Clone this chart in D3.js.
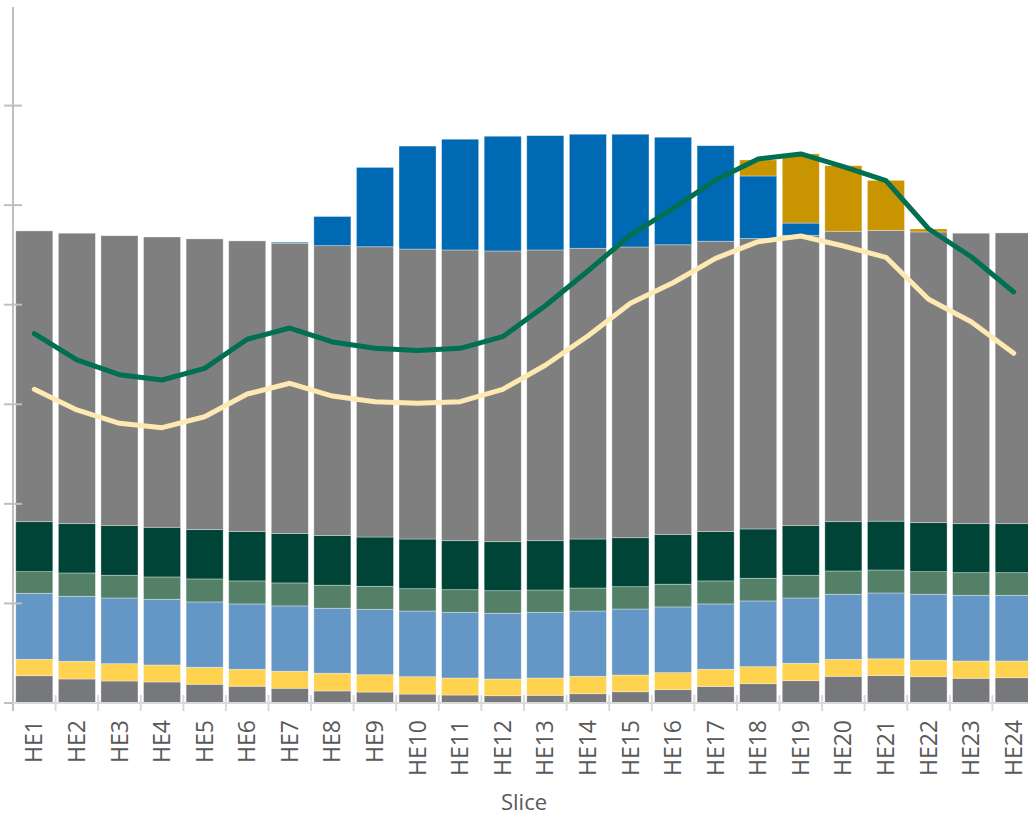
<!DOCTYPE html>
<html>
<head>
<meta charset="utf-8">
<script src="https://cdn.jsdelivr.net/npm/d3@7"></script>
<style>
  body { margin: 0; background: #fff; }
  svg { display: block; }
</style>
</head>
<body>
<div id="chart-area"></div>
<script>
// categories
const slices = ['HE1','HE2','HE3','HE4','HE5','HE6','HE7','HE8','HE9','HE10','HE11','HE12',
                'HE13','HE14','HE15','HE16','HE17','HE18','HE19','HE20','HE21','HE22','HE23','HE24'];

// stacked series, bottom to top (MW)
const darkGray  = [274,241,221,211,188,168,148,121,110,90,80,73,77,93,113,134,166,194,224,268,276,264,248,254];
const yellow    = [165,178,174,171,171,171,171,178,174,174,171,168,174,175,168,171,173,171,175,171,168,166,174,168];
const lightBlue = [663,653,660,660,656,656,656,653,657,660,660,660,660,656,663,660,656,660,656,653,661,662,660,660];
const midGreen  = [217,234,228,224,231,231,231,231,231,224,227,227,224,231,224,228,231,228,228,234,231,227,227,227];
const darkGreen = [502,495,498,499,495,495,495,498,495,499,492,492,495,492,492,498,495,495,498,495,490,492,492,492];
const gray      = [2920,2917,2912,2915,2920,2920,2917,2912,2915,2912,2920,2920,2920,2920,2920,2911,2917,2917,2917,2917,2921,2920,2917,2920];
const blue      = [0,0,0,0,0,0,10,293,797,1034,1112,1152,1148,1145,1132,1080,959,628,122,0,0,0,0,0];
const gold      = [0,0,0,0,0,0,0,0,0,0,0,0,0,0,0,0,0,161,695,658,502,30,0,0];

// lines
const greenLine  = [3709,3445,3297,3244,3361,3653,3766,3626,3562,3539,3562,3679,3990,4339,4700,4968,5252,5463,5514,5386,5246,4763,4482,4128];
const yellowLine = [3150,2943,2809,2765,2875,3103,3211,3083,3026,3010,3026,3150,3392,3686,4014,4221,4466,4633,4690,4590,4476,4054,3829,3512];

const yTicks = [0,1000,2000,3000,4000,5000,6000];

const seriesList = [
    { key: 'darkGray',  values: darkGray,  color: '#77787b' },
    { key: 'yellow',    values: yellow,    color: '#ffd24f' },
    { key: 'lightBlue', values: lightBlue, color: '#6497c6' },
    { key: 'midGreen',  values: midGreen,  color: '#548068' },
    { key: 'darkGreen', values: darkGreen, color: '#004437' },
    { key: 'gray',      values: gray,      color: '#7f7f7f' },
    { key: 'blue',      values: blue,      color: '#0069b4' },
    { key: 'gold',      values: gold,      color: '#c89400' }
];

const width = 1028, height = 817;
const axisX = 13, baseY = 703, topY = 6;

const svg = d3.select('#chart-area').append('svg')
    .attr('width', width)
    .attr('height', height);

// scales
const xScale = d3.scaleBand()
    .domain(slices)
    .range([axisX, 1035])
    .paddingInner(0.13)
    .paddingOuter(0.065);

const yScale = d3.scaleLinear()
    .domain([0, 7000])
    .range([baseY, topY]);

// stack table
const table = slices.map((s, i) => {
    const row = { slice: s };
    seriesList.forEach(se => { row[se.key] = se.values[i]; });
    return row;
});
const stacked = d3.stack().keys(seriesList.map(s => s.key))(table);

// bars
svg.append('g').selectAll('g')
    .data(stacked)
    .enter()
    .append('g')
    .attr('fill', (d, i) => seriesList[i].color)
    .selectAll('rect')
    .data(d => d.filter(p => p[1] - p[0] > 0))
    .enter()
    .append('rect')
    .attr('x', d => xScale(d.data.slice))
    .attr('y', d => yScale(d[1]))
    .attr('width', xScale.bandwidth())
    .attr('height', d => yScale(d[0]) - yScale(d[1]))
    .attr('stroke', '#ffffff')
    .attr('stroke-opacity', 0.45)
    .attr('stroke-width', 0.75);

// y axis
svg.append('line')
    .attr('x1', axisX).attr('x2', axisX)
    .attr('y1', topY + 1).attr('y2', baseY + 8)
    .attr('stroke', '#bfbfbf').attr('stroke-width', 2);

svg.append('g').selectAll('line')
    .data(yTicks)
    .enter()
    .append('line')
    .attr('x1', axisX - 9).attr('x2', axisX + 9)
    .attr('y1', d => yScale(d)).attr('y2', d => yScale(d))
    .attr('stroke', '#bfbfbf').attr('stroke-width', 2);

// x axis baseline + category ticks
svg.append('line')
    .attr('x1', axisX).attr('x2', width)
    .attr('y1', baseY).attr('y2', baseY)
    .attr('stroke', '#d9d9d9').attr('stroke-width', 2);

const step = xScale.step();
svg.append('g').selectAll('line')
    .data(slices)
    .enter()
    .append('line')
    .attr('x1', d => xScale(d) + xScale.bandwidth() + (step - xScale.bandwidth()) / 2)
    .attr('x2', d => xScale(d) + xScale.bandwidth() + (step - xScale.bandwidth()) / 2)
    .attr('y1', baseY - 8).attr('y2', baseY + 8)
    .attr('stroke', '#d9d9d9').attr('stroke-width', 2);

// lines
const lineGen = d3.line()
    .x((d, i) => xScale(slices[i]) + xScale.bandwidth() / 2)
    .y(d => yScale(d));

svg.append('path')
    .datum(yellowLine)
    .attr('d', lineGen)
    .attr('fill', 'none')
    .attr('stroke', '#ffe9b3')
    .attr('stroke-width', 5)
    .attr('stroke-linejoin', 'round')
    .attr('stroke-linecap', 'round');

svg.append('path')
    .datum(greenLine)
    .attr('d', lineGen)
    .attr('fill', 'none')
    .attr('stroke', '#006f52')
    .attr('stroke-width', 5)
    .attr('stroke-linejoin', 'round')
    .attr('stroke-linecap', 'round');

// category labels
svg.append('g').selectAll('text')
    .data(slices)
    .enter()
    .append('text')
    .text(d => d)
    .attr('transform', d => `translate(${xScale(d) + xScale.bandwidth() / 2},720) rotate(-90)`)
    .attr('text-anchor', 'end')
    .attr('dy', '0.35em')
    .attr('font-family', '"Open Sans", sans-serif')
    .attr('font-size', '23px')
    .attr('fill', '#595959');

// axis title
svg.append('text')
    .text('Slice')
    .attr('x', (axisX + 1035) / 2)
    .attr('y', 810)
    .attr('text-anchor', 'middle')
    .attr('font-family', '"Open Sans", sans-serif')
    .attr('font-size', '22px')
    .attr('fill', '#595959');
</script>
</body>
</html>
